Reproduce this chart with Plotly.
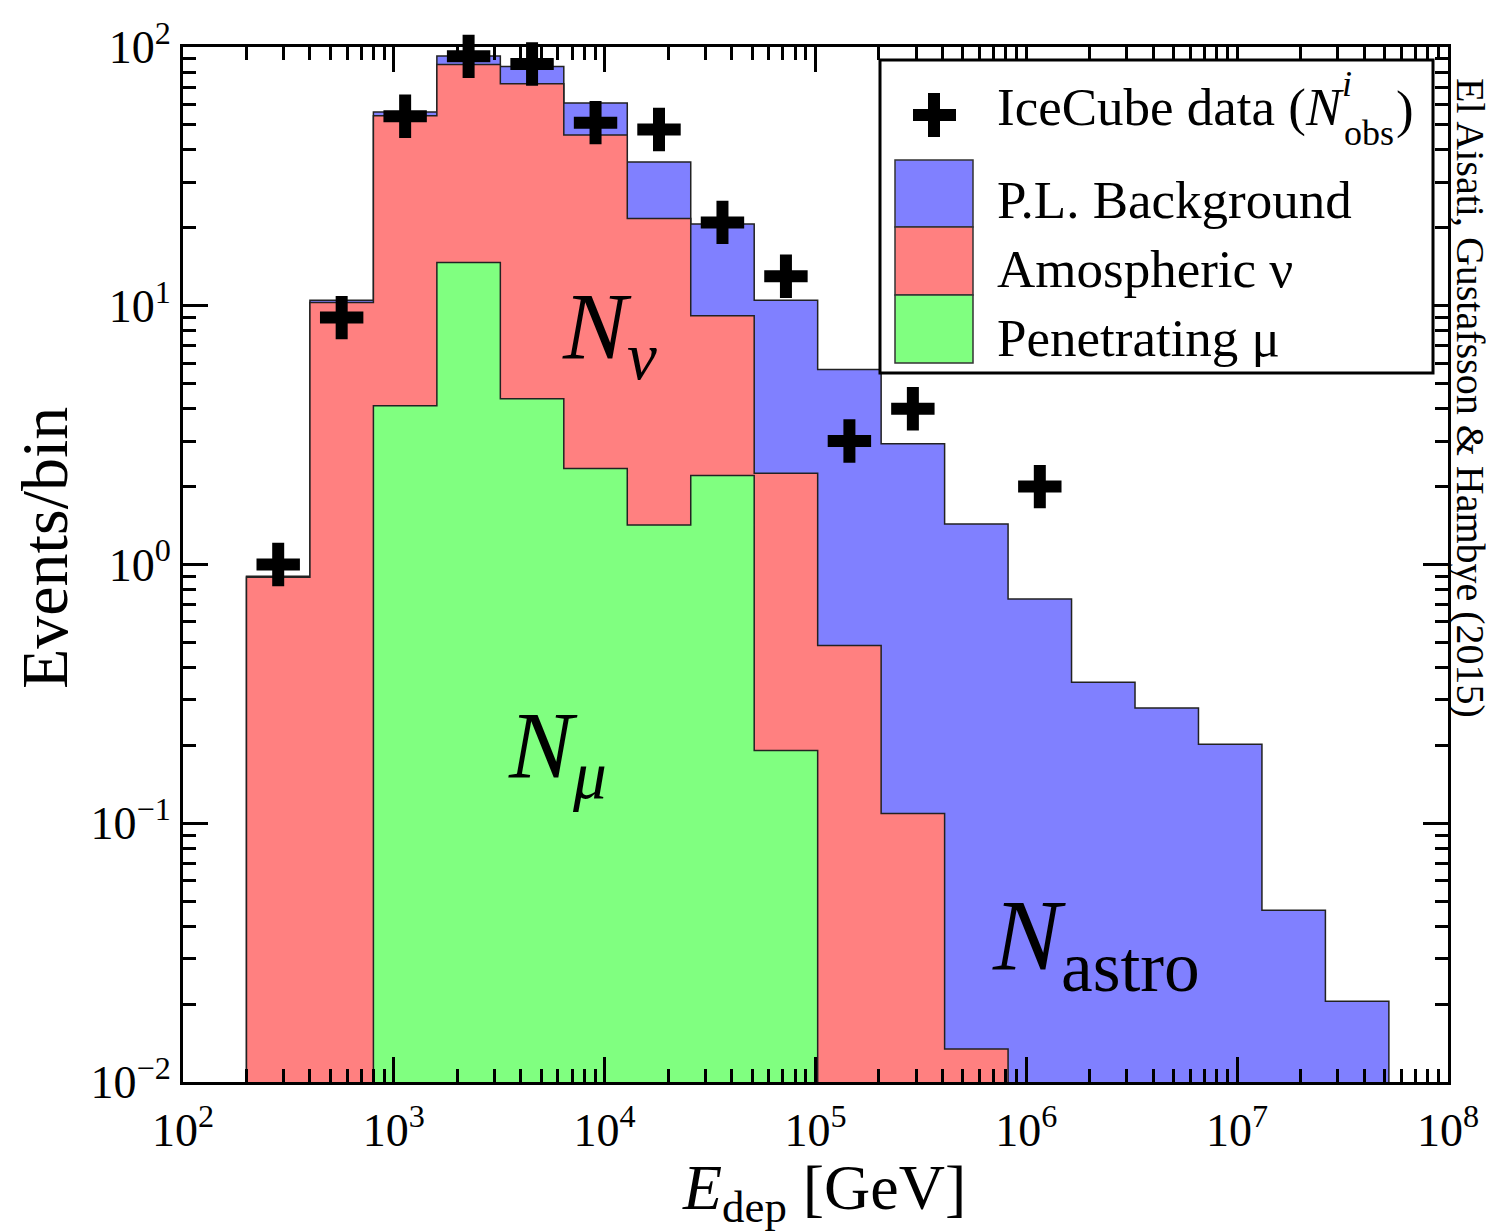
import plotly.graph_objects as go

# ---------------- data ----------------
bin_edges = [200, 400, 800, 1600, 3200, 6400, 12800, 25600, 51200, 102400,
             204800, 409600, 819200, 1638400, 3276800, 6553600, 13107200,
             26214400, 52428800]
# per-bin expected events (stack components)
penetrating_mu = [0, 0, 4.11, 14.7, 4.37, 2.35, 1.42, 2.21, 0.191,
                  0, 0, 0, 0, 0, 0, 0, 0, 0]
atmospheric_nu = [0.893, 10.3, 50.1, 70.8, 67.7, 43.35, 20.3, 6.94, 2.06,
                  0.486, 0.109, 0.0134, 0, 0, 0, 0, 0, 0]
pl_background = [0.008, 0.2, 1.9, 6.8, 12.0, 15.0, 14.2, 11.55, 8.25,
                 5.19, 2.82, 1.42, 0.735, 0.351, 0.279, 0.202, 0.0461, 0.0205]
# IceCube observed events per bin (None = no event)
icecube_obs = [1, 9, 54, 92, 86, 51, 48, 21, 13, 3, 4, None, 2]

x_tickvals = [1e2, 1e3, 1e4, 1e5, 1e6, 1e7, 1e8]
x_ticktext = ["10<sup>2</sup>", "10<sup>3</sup>", "10<sup>4</sup>", "10<sup>5</sup>",
              "10<sup>6</sup>", "10<sup>7</sup>", "10<sup>8</sup>"]
y_tickvals = [1e-2, 1e-1, 1e0, 1e1, 1e2]
y_ticktext = ["10<sup>−2</sup>", "10<sup>−1</sup>", "10<sup>0</sup>",
              "10<sup>1</sup>", "10<sup>2</sup>"]


def minor_ticks(majors):
    return [m * k for m in majors[:-1] for k in range(2, 10)]


COL_BLUE = "#8080FF"
COL_RED = "#FF8080"
COL_GREEN = "#80FF80"
FLOOR = 1e-3

# cumulative stacks
stack_mu = list(penetrating_mu)
stack_nu = [a + b for a, b in zip(stack_mu, atmospheric_nu)]
stack_tot = [a + b for a, b in zip(stack_nu, pl_background)]


def step_polygon(tops):
    xs, ys = [bin_edges[0]], [FLOOR]
    for i, t in enumerate(tops):
        v = max(t, FLOOR)
        xs += [bin_edges[i], bin_edges[i + 1]]
        ys += [v, v]
    xs.append(bin_edges[-1])
    ys.append(FLOOR)
    return xs, ys


fig = go.Figure()
for tops, col in [(stack_tot, COL_BLUE), (stack_nu, COL_RED), (stack_mu, COL_GREEN)]:
    xs, ys = step_polygon(tops)
    fig.add_trace(go.Scatter(x=xs, y=ys, mode="lines", fill="toself",
                             fillcolor=col, line=dict(color="#222222", width=1.5),
                             showlegend=False, hoverinfo="skip"))

centers = [(bin_edges[i] * bin_edges[i + 1]) ** 0.5 for i in range(len(icecube_obs))]
fig.add_trace(go.Scatter(
    x=[c for c, v in zip(centers, icecube_obs) if v is not None],
    y=[v for v in icecube_obs if v is not None],
    mode="markers", cliponaxis=False, showlegend=False,
    marker=dict(symbol="cross-thin", size=31, color="black",
                line=dict(color="black", width=12))))

# ---------------- layout helpers (pixel -> paper) ----------------
# target plot-area pixels in the page; the page body adds an 8px offset
L, R, T, B = 183, 1448, 47, 1082
OFF = 8
W, H = 1494 - OFF, 1231 - OFF


def px(x):
    return (x - L) / (R - L)


def py(y):
    return (B - y) / (B - T)


FONT = "Liberation Serif"
axis_common = dict(type="log", ticks="inside", ticklen=25, tickwidth=2.5,
                   tickcolor="black", showline=True, linewidth=3, linecolor="black",
                   mirror="allticks", automargin=False,
                   showgrid=False, zeroline=False,
                   tickfont=dict(family=FONT, size=46, color="black"))

fig.update_layout(
    width=W, height=H,
    margin=dict(l=L - OFF, r=W + OFF - R, t=T - OFF, b=H + OFF - B),
    paper_bgcolor="white", plot_bgcolor="white",
    font=dict(family=FONT, color="black"),
    xaxis=dict(range=[2, 8], tickvals=x_tickvals, ticktext=x_ticktext,
               ticklabelstandoff=6,
               minor=dict(tickvals=minor_ticks(x_tickvals), ticks="inside", ticklen=13,
                          tickwidth=2.5, tickcolor="black", showgrid=False),
               **axis_common),
    yaxis=dict(range=[-2, 2], tickvals=y_tickvals, ticktext=y_ticktext,
               minor=dict(tickvals=minor_ticks(y_tickvals), ticks="inside", ticklen=13,
                          tickwidth=2.5, tickcolor="black", showgrid=False),
               **axis_common),
)

ann = []
# axis titles
ann.append(dict(text="<i>E</i><sub>dep</sub> [GeV]", x=px(824), y=py(1192),
                xref="paper", yref="paper", showarrow=False,
                xanchor="center", yanchor="middle", font=dict(size=64)))
ann.append(dict(text="Events/bin", x=px(44), y=py(548), xref="paper", yref="paper",
                showarrow=False, textangle=-90, xanchor="center", yanchor="middle",
                font=dict(size=66)))
# credit text
ann.append(dict(text="El Aisati, Gustafsson &amp; Hambye (2015)", x=px(1471), y=py(398),
                xref="paper", yref="paper", showarrow=False, textangle=90,
                xanchor="center", yanchor="middle", font=dict(size=40)))
# region labels
ann.append(dict(text="<i>N</i><sub><i>ν</i></sub>", x=px(560), y=py(333),
                xref="paper", yref="paper", showarrow=False, xanchor="left",
                yanchor="middle", font=dict(size=96)))
ann.append(dict(text="<i>N</i><sub><i>μ</i></sub>", x=px(506), y=py(752),
                xref="paper", yref="paper", showarrow=False, xanchor="left",
                yanchor="middle", font=dict(size=96)))
ann.append(dict(text="<i>N</i><sub>astro</sub>", x=px(990), y=py(942),
                xref="paper", yref="paper", showarrow=False, xanchor="left",
                yanchor="middle", font=dict(size=102)))

# ---------------- manual legend ----------------
shapes = []
shapes.append(dict(type="rect", xref="paper", yref="paper", layer="above",
                   x0=px(880), x1=px(1433), y0=py(373), y1=py(60),
                   fillcolor="white", line=dict(color="black", width=3)))
# cross symbol
shapes.append(dict(type="rect", xref="paper", yref="paper", layer="above",
                   x0=px(913), x1=px(956), y0=py(121), y1=py(109),
                   fillcolor="black", line=dict(width=0)))
shapes.append(dict(type="rect", xref="paper", yref="paper", layer="above",
                   x0=px(928), x1=px(940), y0=py(137), y1=py(93),
                   fillcolor="black", line=dict(width=0)))
for (y0, y1, col) in [(160, 227, COL_BLUE), (227, 295, COL_RED), (295, 363, COL_GREEN)]:
    shapes.append(dict(type="rect", xref="paper", yref="paper", layer="above",
                       x0=px(895), x1=px(973), y0=py(y1), y1=py(y0),
                       fillcolor=col, line=dict(color="#333333", width=1.5)))

LEG = 53
ann.append(dict(text="IceCube data (<i>N</i>", x=px(995), y=py(107), xref="paper",
                yref="paper", showarrow=False, xanchor="left", yanchor="middle",
                font=dict(size=LEG)))
ann.append(dict(text="<i>i</i>", x=px(1347), y=py(84), xref="paper", yref="paper",
                showarrow=False, xanchor="center", yanchor="middle", font=dict(size=36)))
ann.append(dict(text="obs", x=px(1369), y=py(133), xref="paper", yref="paper",
                showarrow=False, xanchor="center", yanchor="middle", font=dict(size=36)))
ann.append(dict(text=")", x=px(1416), y=py(109), xref="paper", yref="paper",
                showarrow=False, xanchor="right", yanchor="middle", font=dict(size=LEG)))
for txt, yc in [("P.L. Background", 200), ("Amospheric ν", 269), ("Penetrating μ", 338)]:
    ann.append(dict(text=txt, x=px(995), y=py(yc), xref="paper", yref="paper",
                    showarrow=False, xanchor="left", yanchor="middle",
                    font=dict(size=LEG)))

fig.update_layout(annotations=ann, shapes=shapes)
fig.write_html("out.html")
